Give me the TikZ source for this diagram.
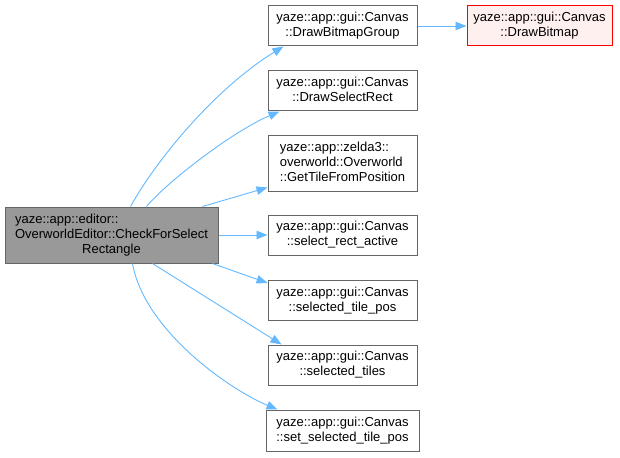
\documentclass[tikz,border=0pt]{standalone}
\usepackage{fontspec}
\setmainfont{Liberation Sans}
\usetikzlibrary{arrows.meta}
\definecolor{edgeblue}{HTML}{63B8FF}
\definecolor{boxline}{HTML}{666666}
\definecolor{curfill}{HTML}{999999}
\definecolor{redfill}{HTML}{FFF0F0}
\definecolor{redline}{HTML}{FF0000}
\newcommand{\lbl}[2]{\begin{tabular}{@{}l@{}}#1\multicolumn{1}{@{}c@{}}{#2}\end{tabular}}
\begin{document}
\begin{tikzpicture}[x=1pt,y=-1pt,
  fn/.style={draw=boxline, fill=white, line width=1pt, inner sep=0pt,
    minimum height=40pt, minimum width=149pt, font=\fontsize{13}{15}\selectfont},
  curnode/.style={fn, fill=curfill, minimum width=213pt, minimum height=56pt},
  hlnode/.style={fn, draw=redline, fill=redfill, minimum width=145pt},
  edge/.style={draw=edgeblue, line width=0.9pt, -{Triangle[length=11pt,width=8.5pt]}}]
\useasboundingbox (0,0) rectangle (620,457);

\node[curnode] (main) at (111.5,235) {\lbl{yaze::app::editor::\\OverworldEditor::CheckForSelect\\}{Rectangle}};
\node[fn] (bg) at (342.5,26) {\lbl{yaze::app::gui::Canvas\\}{::DrawBitmapGroup}};
\node[hlnode] (db) at (539.5,26) {\lbl{yaze::app::gui::Canvas\\}{::DrawBitmap}};
\node[fn] (dsr) at (342.5,91) {\lbl{yaze::app::gui::Canvas\\}{::DrawSelectRect}};
\node[fn, minimum height=55pt] (gt) at (342.5,163.5) {\lbl{yaze::app::zelda3::\\overworld::Overworld\\}{::GetTileFromPosition}};
\node[fn] (sra) at (342.5,235) {\lbl{yaze::app::gui::Canvas\\}{::select\_rect\_active}};
\node[fn] (stp) at (342.5,300.5) {\lbl{yaze::app::gui::Canvas\\}{::selected\_tile\_pos}};
\node[fn] (st) at (342.5,365) {\lbl{yaze::app::gui::Canvas\\}{::selected\_tiles}};
\node[fn, minimum width=153pt, minimum height=41pt] (sstp) at (342.5,430.5) {\lbl{yaze::app::gui::Canvas\\}{::set\_selected\_tile\_pos}};

\draw[edge] ([xshift=126pt]main.north west) .. controls +(29,-52) and +(-64,39) .. ([xshift=16pt]bg.south west);
\draw[edge] ([xshift=142pt]main.north west) .. controls +(23,-27) and +(-45,19) .. ([xshift=12pt]dsr.south west);
\draw[edge] ([xshift=198pt]main.north west) -- ([yshift=4pt]gt.south west);
\draw[edge] (main.east) -- (sra.west);
\draw[edge] ([xshift=-6pt]main.south east) -- ([yshift=-3pt]stp.north west);
\draw[edge] ([xshift=148pt]main.south west) -- ([xshift=14pt]st.north west);
\draw[edge] ([xshift=128pt]main.south west) .. controls +(12,67) and +(-48,-20) .. ([xshift=12pt]sstp.north west);
\draw[edge] (bg.east) -- (db.west);
\end{tikzpicture}
\end{document}
